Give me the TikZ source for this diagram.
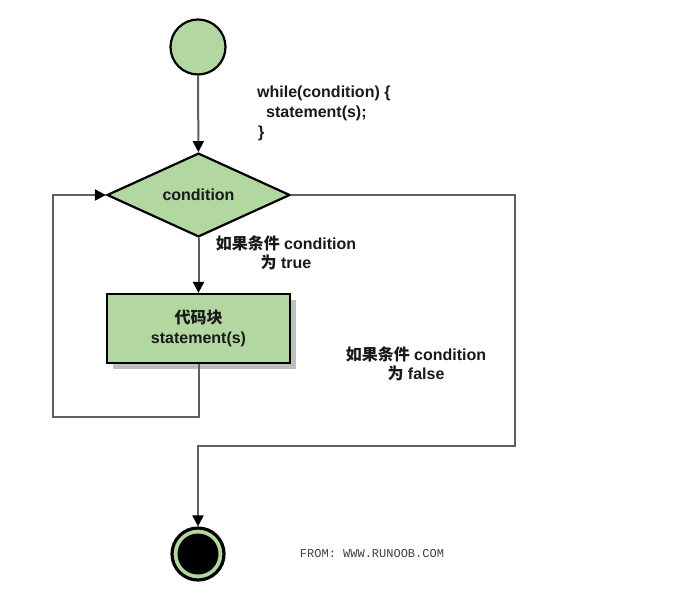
\documentclass[tikz,border=0pt]{standalone}
\usepackage{fontspec}
\setmainfont{Liberation Sans}
\newfontfamily\cjk{Noto Sans CJK SC}
\newfontfamily\mono{Liberation Mono}
\usetikzlibrary{shapes.geometric,arrows.meta,shadows}
\definecolor{flowgreen}{RGB}{178,215,160}
\definecolor{linegray}{RGB}{95,95,95}
\begin{document}
\begin{tikzpicture}[x=1pt,y=-1pt,
  txt/.style={font=\fontsize{16}{19.5}\selectfont\bfseries, text=black!90, inner sep=0pt},
  conn/.style={draw=linegray, line width=2pt, -{Triangle[length=11pt,width=11pt,color=black]}},
  shapeborder/.style={draw=black, line width=2.2pt, fill=flowgreen}
]
\useasboundingbox (0,0) rectangle (692,615);
\fill[white] (0,0) rectangle (692,615);

% start
\node[shapeborder, circle, minimum size=55pt, inner sep=0pt] (start) at (198,47) {};

% condition diamond
\node[shapeborder, diamond, minimum width=183pt, minimum height=81pt, inner sep=0pt, txt] (cond) at (198.5,195) {condition};

% code block
\node[shapeborder, rectangle, minimum width=183pt, minimum height=69pt, inner sep=0pt,
      drop shadow={shadow xshift=6pt, shadow yshift=-6pt, fill=black!25, opacity=1},
      txt, align=center] (block) at (198.5,328.5) {{\cjk 代码块}\\statement(s)};

% end
\node[draw=black, line width=3.2pt, fill=flowgreen, circle, minimum size=52pt, inner sep=0pt] (end) at (198,554) {};
\node[fill=black, circle, minimum size=41pt, inner sep=0pt] (endin) at (end.center) {};

% code text
\node[txt, anchor=base west] (w1) at (257,98) {while(condition) \{};
\node[txt, anchor=base west] (w2) at (266,117.5) {statement(s);};
\node[txt, anchor=base west] (w3) at (258,137) {\}};

% labels
\node[txt, align=center] (ltrue) at (286,253) {{\cjk 如果条件} condition\\{\cjk 为} true};
\node[txt, align=center] (lfalse) at (416,364) {{\cjk 如果条件} condition\\{\cjk 为} false};
\node[font=\mono\fontsize{12}{14}\selectfont, text=black!75, inner sep=0pt] (from) at (372,554) {FROM: WWW.RUNOOB.COM};

% connector coordinates
\coordinate (lb) at (198.5,417);
\coordinate (ll) at (53,417);
\coordinate (lt) at (53,195);
\coordinate (rt) at (515,195);
\coordinate (rb) at (515,446);
\coordinate (eb) at (198,446);

\draw[conn] (start) -- (cond);
\draw[conn] (cond) -- (block);
\draw[conn] (block.south) -- (lb) -- (ll) -- (lt) -- (cond.west);
\draw[conn] (cond.east) -- (rt) -- (rb) -- (eb) -- (end.north);
\end{tikzpicture}
\end{document}
